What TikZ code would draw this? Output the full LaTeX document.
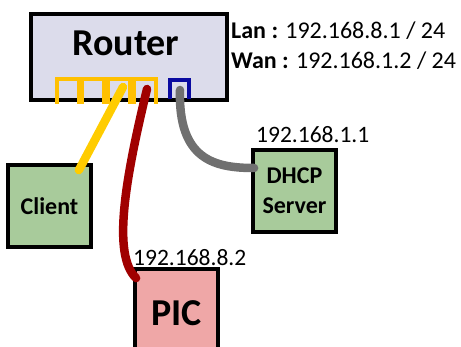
\documentclass[tikz,border=0pt]{standalone}
\usepackage{fontspec}
\setmainfont{Carlito}
\definecolor{routerfill}{HTML}{DCDCEB}
\definecolor{hostfill}{HTML}{A8CB9B}
\definecolor{picfill}{HTML}{EFA7A7}
\definecolor{lanport}{HTML}{FFC000}
\definecolor{wanport}{HTML}{0A0AA0}
\definecolor{lancable}{HTML}{FFCC00}
\definecolor{piccable}{HTML}{A00000}
\definecolor{wancable}{HTML}{707070}
\tikzset{
  devbox/.style={draw=black, line width=3.8pt, inner sep=0pt, minimum width=83pt, minimum height=82pt,
                 font=\fontsize{24}{30}\selectfont\bfseries, align=center},
  iplabel/.style={inner sep=0pt, anchor=west, font=\fontsize{23.5}{28}\selectfont},
  portline/.style={line width=3.6pt},
  cable/.style={line width=8.5pt, line cap=round},
}
\begin{document}
\begin{tikzpicture}[x=1pt,y=-1pt]
\useasboundingbox (0,0) rectangle (461,347);

% router body
\node[draw=black, fill=routerfill, line width=3.8pt, minimum width=196pt, minimum height=86pt, inner sep=0pt]
  (router) at (129,57) {};
\node[inner sep=0pt, font=\fontsize{38}{44}\selectfont\bfseries] (routertxt) at (126,43) {Router};

% LAN ports (yellow) and WAN port (blue)
\foreach \a/\b in {57/79, 82/104, 108/130, 134/156}
  \draw[portline, lanport] (\a,104) -- (\a,79) -- (\b,79) -- (\b,104);
\draw[portline, wanport] (170,99) -- (170,80) -- (189,80) -- (189,99);

\coordinate (lan3) at (123,87);
\coordinate (lan4) at (147,89);
\coordinate (wan) at (180,90);

% addressing of the router
\node[iplabel, font=\fontsize{24}{28}\selectfont] (lan) at (231,31) {\textbf{Lan :} 192.168.8.1 / 24};
\node[iplabel, font=\fontsize{24}{28}\selectfont] (wantxt) at (231,61) {\textbf{Wan :} 192.168.1.2 / 24};

% hosts
\node[devbox, fill=hostfill, minimum height=82pt] (client) at (49.5,206) {Client};
\node[devbox, fill=hostfill] (dhcp) at (294.5,191) {DHCP\\Server};
\node[devbox, fill=picfill, minimum height=88pt, font=\fontsize{38}{44}\selectfont\bfseries] (pic) at (176.5,313) {PIC};

\node[iplabel] (dhcpip) at (256,135) {192.168.1.1};
\node[iplabel] (picip) at (133,258) {192.168.8.2};

% cables
\draw[cable, lancable] (lan3) -- ([shift={(-14,7)}]client.north east);
\draw[cable, piccable] (lan4) .. controls (125,180) and (112,255) .. ([shift={(3,11)}]pic.north west);
\draw[cable, wancable] (wan) .. controls (178,160) and (215,168) .. ([shift={(3,-23)}]dhcp.west);
\end{tikzpicture}
\end{document}
